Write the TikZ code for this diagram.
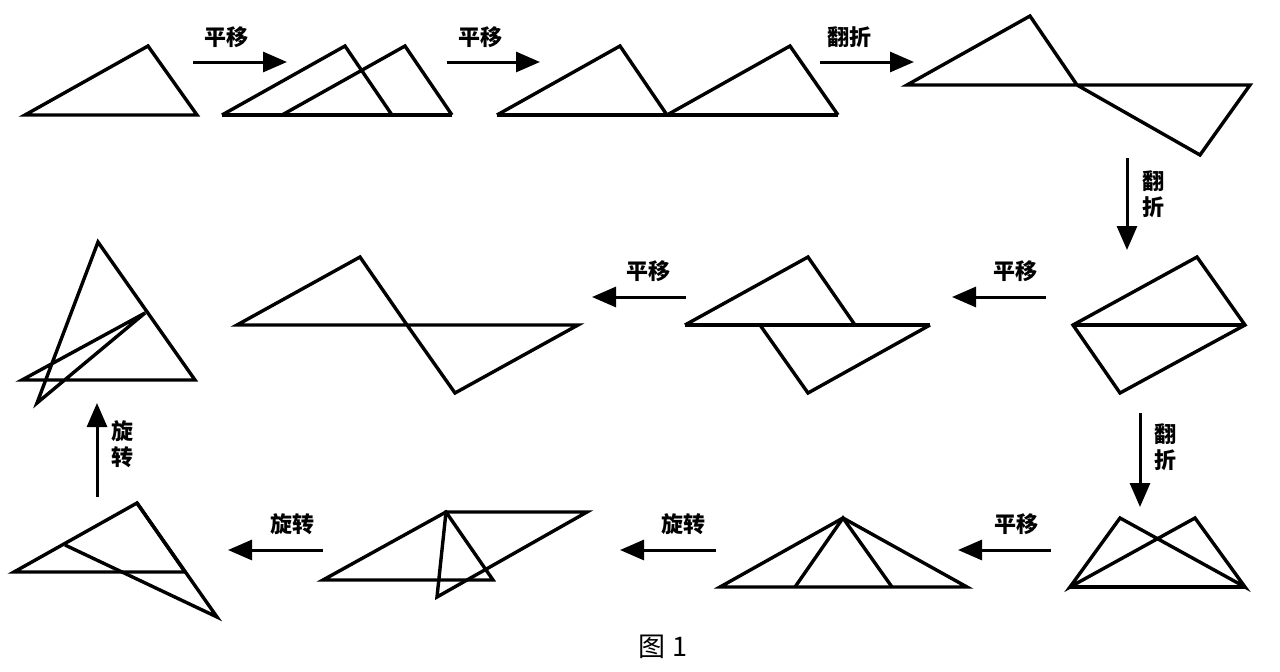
\documentclass[tikz,border=0pt]{standalone}
\usepackage{fontspec}
\newfontfamily\cjk{Noto Sans CJK SC}
\usetikzlibrary{arrows.meta}
\tikzset{every picture/.style={line width=3.4pt},
  fig/.style={line join=miter},
  move/.style={-{Triangle[length=24pt,width=20pt]},line width=3pt},
  lbl/.style={font=\cjk\bfseries\fontsize{22pt}{24pt}\selectfont,inner sep=0pt},
  vlbl/.style={lbl,align=center,font=\cjk\bfseries\fontsize{22pt}{26pt}\selectfont}}
\begin{document}
\begin{tikzpicture}[x=1pt,y=-1pt]
\useasboundingbox (0,0) rectangle (1280,672);

%Row 1
\draw[fig] (25,115) -- (148,46) -- (197,115) -- cycle ;
\draw[fig] (222,115) -- (345,46) -- (392,115) ;
\draw[fig] (282,115) -- (405,46) -- (452,115) ;
\draw[fig] (222,115) -- (452,115) ;
\draw[fig] (497,115) -- (620,46) -- (667,115) ;
\draw[fig] (667,115) -- (790,46) -- (838,115) ;
\draw[fig] (497,115) -- (838,115) ;
\draw[fig] (907,85) -- (1030,16) -- (1077,85) -- (1200,155) -- (1250,85) -- cycle ;

%Row 2
\draw[fig] (1073,325) -- (1197,257) -- (1245,325) -- (1120,393) -- cycle ;
\draw[fig] (1073,325) -- (1245,325) ;
\draw[fig] (685,325) -- (808,257) -- (855,325) ;
\draw[fig] (760,325) -- (808,393) -- (930,325) ;
\draw[fig] (685,325) -- (930,325) ;
\draw[fig] (237,325) -- (360,257) -- (407,325) -- (455,393) -- (578,325) -- cycle ;
\draw[fig] (22,380) -- (195,380) -- (98,242) -- (37,403) -- (145,313) -- cycle ;

%Row 3
\draw[fig] (1070,587) -- (1195,518) -- (1245,587) -- (1120,518) -- cycle ;
\draw[fig] (1070,587) -- (1245,587) ;
\draw[fig] (720,587) -- (843,518) -- (967,587) -- cycle ;
\draw[fig] (795,587) -- (843,518) -- (892,587) ;
\draw[fig] (323,580) -- (446,512) -- (493,580) -- cycle ;
\draw[fig] (446,512) -- (587,512) -- (437,597) -- cycle ;
\draw[fig] (14,572) -- (137,503) -- (185,572) -- cycle ;
\draw[fig] (65,545) -- (217,617) -- (137,503) ;

%Arrows
\coordinate (a1s) at (193,62); \coordinate (a1e) at (287,62);
\coordinate (a2s) at (447,62); \coordinate (a2e) at (540,62);
\coordinate (a3s) at (820,62); \coordinate (a3e) at (914,62);
\coordinate (a4s) at (1127,158); \coordinate (a4e) at (1127,250);
\coordinate (a5s) at (1046,297); \coordinate (a5e) at (952,297);
\coordinate (a6s) at (686,297); \coordinate (a6e) at (592,297);
\coordinate (a7s) at (1140,413); \coordinate (a7e) at (1140,507);
\coordinate (a8s) at (1051,550); \coordinate (a8e) at (958,550);
\coordinate (a9s) at (716,550); \coordinate (a9e) at (620,550);
\coordinate (a10s) at (323,550); \coordinate (a10e) at (228,550);
\coordinate (a11s) at (97,497); \coordinate (a11e) at (97,403);
\foreach \i in {1,...,11} \draw[move] (a\i s) -- (a\i e) ;

%Labels
\node[lbl] (l1) at (226,37) {平移};
\node[lbl] (l2) at (480,37) {平移};
\node[lbl] (l3) at (849,37) {翻折};
\node[vlbl] (l4) at (1153,194) {翻\\折};
\node[lbl] (l5) at (1015,271) {平移};
\node[lbl] (l6) at (648,271) {平移};
\node[vlbl] (l7) at (1165,447) {翻\\折};
\node[lbl] (l8) at (1016,524) {平移};
\node[lbl] (l9) at (683,524) {旋转};
\node[lbl] (l10) at (292,524) {旋转};
\node[vlbl] (l11) at (122,444) {旋\\转};
\node[font=\cjk\fontsize{27pt}{30pt}\selectfont] (cap) at (663,647) {图 1};
\end{tikzpicture}
\end{document}
